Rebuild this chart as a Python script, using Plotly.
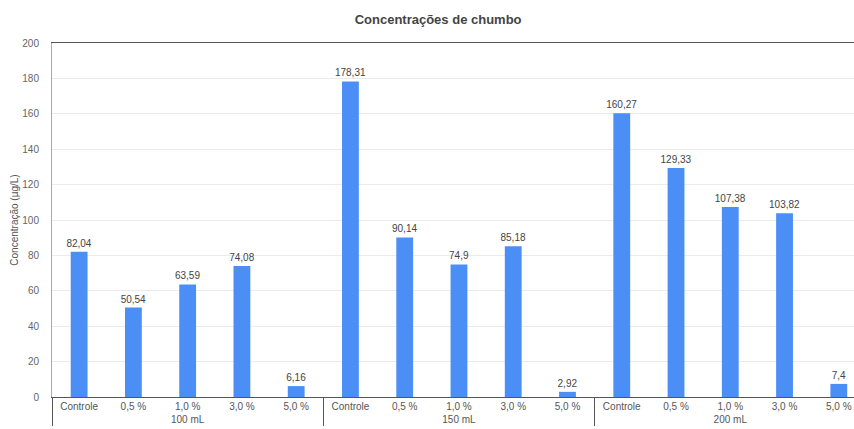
import plotly.graph_objects as go

groups = ["100 mL", "150 mL", "200 mL"]
treatments = ["Controle", "0,5 %", "1,0 %", "3,0 %", "5,0 %"]
values_100 = [82.04, 50.54, 63.59, 74.08, 6.16]
values_150 = [178.31, 90.14, 74.9, 85.18, 2.92]
values_200 = [160.27, 129.33, 107.38, 103.82, 7.4]
y_ticks = [0, 20, 40, 60, 80, 100, 120, 140, 160, 180, 200]

x_group, x_cat, vals = [], [], []
for g, v in zip(groups, [values_100, values_150, values_200]):
    for t, val in zip(treatments, v):
        x_group.append(g)
        x_cat.append(t)
        vals.append(val)

def fmt(v):
    s = ("%.2f" % v).rstrip("0").rstrip(".")
    return s.replace(".", ",")

labels = [fmt(v) for v in vals]

font_family = "Liberation Sans, Arial, sans-serif"

fig = go.Figure(go.Bar(
    x=[x_group, x_cat],
    y=vals,
    text=labels,
    textposition="outside",
    constraintext="none",
    textfont=dict(size=10, color="#444444", family=font_family),
    marker=dict(color="#4a8ef6", line=dict(width=0)),
    cliponaxis=False,
))

fig.update_layout(
    width=854, height=429,
    margin=dict(l=52, r=0, t=43, b=32),
    paper_bgcolor="white", plot_bgcolor="white",
    bargap=0.69,
    showlegend=False,
    font=dict(family=font_family, size=10, color="#666666"),
    title=dict(text="<b>Concentrações de chumbo</b>", x=0.513, xanchor="center",
               y=0.955, yanchor="middle",
               font=dict(size=13, color="#444444", family=font_family)),
)

fig.update_xaxes(
    type="multicategory",
    range=[-0.5, 14.28],
    showline=True, linecolor="#555555", linewidth=1, mirror=True,
    showgrid=False,
    ticks="",
    showdividers=True, dividercolor="#555555", dividerwidth=1,
    tickfont=dict(size=10, color="#555555"),
)

fig.update_yaxes(
    range=[0, 200],
    tickvals=y_ticks,
    showgrid=True, gridcolor="#ebebeb", gridwidth=1,
    zeroline=False,
    showline=True, linecolor="#aaaaaa", linewidth=1,
    ticks="",
    ticklabelstandoff=10,
    tickfont=dict(size=10, color="#666666"),
    title=dict(text="Concentração (µg/L)", standoff=1,
               font=dict(size=10, color="#555555")),
)

fig.write_html("out.html")
